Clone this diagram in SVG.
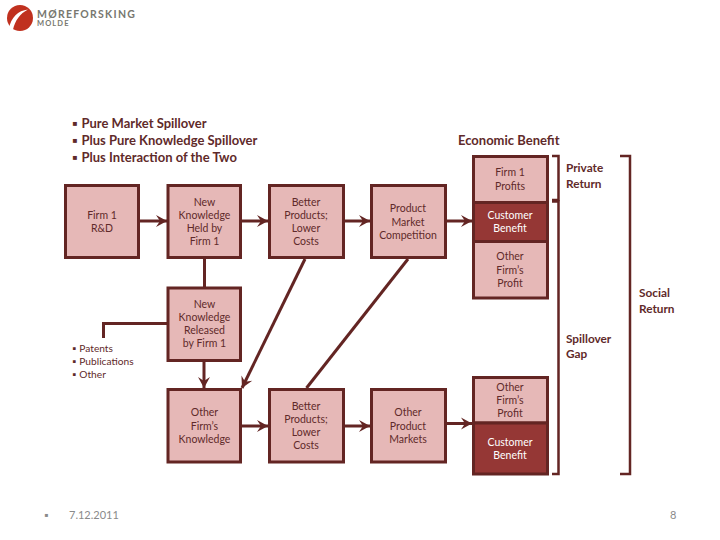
<svg xmlns="http://www.w3.org/2000/svg" width="720" height="540" viewBox="0 0 720 540">
<style>
text{font-family:Lato,"Open Sans",sans-serif;fill:#5f2a2a}
.b{fill:#e6b8b7;stroke:#632523;stroke-width:3}
.d{fill:#953735;stroke:#632523;stroke-width:3}
.l{font-size:10.5px;text-anchor:middle}
.w{fill:#fff}
.h{font-size:13px;font-weight:700}
.r{font-size:11.800px;font-weight:700}
.s{font-size:10.200px}
.c{fill:none;stroke:#632523;stroke-width:3}
.t{fill:none;stroke:#632523;stroke-width:2.500}
.f{fill:#8a8a8a;font-size:11px}
</style>
<defs>
<marker id="a" markerUnits="userSpaceOnUse" markerWidth="14" markerHeight="14" refX="11" refY="6" orient="auto" overflow="visible"><path d="M0 0L11 6L0 12L4 6Z" fill="#632523"/></marker>
</defs>
<g id="logo">
<circle cx="20" cy="18" r="13" fill="#c0311f"/>
<path d="M9 28.500C11 17.500 18 10.500 28 9.500C20 13.500 15 20.500 13 29.500Z" fill="#fff"/>
<text x="37" y="17.500" style="font-size:10.500px;letter-spacing:1.250px;fill:#77776f;font-weight:700">MØREFORSKING</text>
<text x="37" y="25.500" style="font-size:7.500px;letter-spacing:1.100px;fill:#77776f;font-weight:700">MOLDE</text>
</g>
<g id="title-list">
<text x="72" y="128" class="h">▪</text><text x="81.500" y="128" class="h">Pure Market Spillover</text>
<text x="72" y="145" class="h">▪</text><text x="81.500" y="145" class="h">Plus Pure Knowledge Spillover</text>
<text x="72" y="162" class="h">▪</text><text x="81.500" y="162" class="h">Plus Interaction of the Two</text>
</g>
<text id="economic-benefit" x="458" y="145" class="h">Economic Benefit</text>
<g id="connectors">
<path class="c" d="M140 221H167" marker-end="url(#a)"/>
<path class="c" d="M242 221H268" marker-end="url(#a)"/>
<path class="c" d="M345 221H370" marker-end="url(#a)"/>
<path class="c" d="M447 221H472" marker-end="url(#a)"/>
<path class="c" d="M204.500 259V287"/>
<path class="c" d="M204 362V388" marker-end="url(#a)"/>
<path class="c" d="M167 323.500H103.500V338"/>
<path class="c" d="M305 259L242 388" marker-end="url(#a)"/>
<path class="c" d="M408 259L306.500 388"/>
<path class="c" d="M242 426H268" marker-end="url(#a)"/>
<path class="c" d="M345 426H370" marker-end="url(#a)"/>
<path class="c" d="M447 423.500H472" marker-end="url(#a)"/>
</g>
<g id="firm-rd"><rect class="b" x="65.500" y="185.500" width="73" height="72"/><text class="l" x="102" y="219">Firm 1</text><text class="l" x="102" y="232">R&amp;D</text></g>
<g id="new-knowledge-held"><rect class="b" x="168" y="185.500" width="72.500" height="72"/><text class="l" x="204.500" y="206">New</text><text class="l" x="204.500" y="219">Knowledge</text><text class="l" x="204.500" y="232">Held by</text><text class="l" x="204.500" y="245">Firm 1</text></g>
<g id="better-products-1"><rect class="b" x="269.500" y="185.500" width="74" height="72"/><text class="l" x="306" y="206">Better</text><text class="l" x="306" y="219">Products;</text><text class="l" x="306" y="232">Lower</text><text class="l" x="306" y="245">Costs</text></g>
<g id="product-market"><rect class="b" x="371.500" y="185.500" width="74" height="72"/><text class="l" x="408" y="212">Product</text><text class="l" x="408" y="226">Market</text><text class="l" x="408" y="239">Competition</text></g>
<g id="new-knowledge-released"><rect class="b" x="168" y="288" width="72.500" height="72.500"/><text class="l" x="204.500" y="308">New</text><text class="l" x="204.500" y="321">Knowledge</text><text class="l" x="204.500" y="334">Released</text><text class="l" x="204.500" y="347">by Firm 1</text></g>
<g id="patents"><text class="s" x="72" y="352">▪</text><text class="s" x="79.300" y="352">Patents</text><text class="s" x="72" y="365">▪</text><text class="s" x="79.300" y="365">Publications</text><text class="s" x="72" y="378">▪</text><text class="s" x="79.300" y="378">Other</text></g>
<g id="other-knowledge"><rect class="b" x="168" y="389.500" width="72.500" height="72.500"/><text class="l" x="204.500" y="416">Other</text><text class="l" x="204.500" y="430">Firm’s</text><text class="l" x="204.500" y="443">Knowledge</text></g>
<g id="better-products-2"><rect class="b" x="269.500" y="389.500" width="74" height="72.500"/><text class="l" x="306" y="410">Better</text><text class="l" x="306" y="423">Products;</text><text class="l" x="306" y="436">Lower</text><text class="l" x="306" y="449">Costs</text></g>
<g id="other-markets"><rect class="b" x="371.500" y="389.500" width="74" height="72.500"/><text class="l" x="408" y="416">Other</text><text class="l" x="408" y="430">Product</text><text class="l" x="408" y="443">Markets</text></g>
<g id="firm-profits"><rect class="b" x="473.500" y="156.500" width="74" height="46"/><text class="l" x="510" y="176">Firm 1</text><text class="l" x="510" y="190">Profits</text></g>
<g id="customer-benefit-1"><rect class="d" x="473.500" y="202.500" width="74" height="39"/><text class="l w" x="510" y="219">Customer</text><text class="l w" x="510" y="232">Benefit</text></g>
<g id="other-profit-1"><rect class="b" x="473.500" y="241.500" width="74" height="56.500"/><text class="l" x="510" y="260">Other</text><text class="l" x="510" y="274">Firm’s</text><text class="l" x="510" y="287">Profit</text></g>
<g id="other-profit-2"><rect class="b" x="473.500" y="377.500" width="74" height="45.500"/><text class="l" x="510" y="391">Other</text><text class="l" x="510" y="404">Firm’s</text><text class="l" x="510" y="417">Profit</text></g>
<g id="customer-benefit-2"><rect class="d" x="473.500" y="423" width="74" height="51"/><text class="l w" x="510" y="446">Customer</text><text class="l w" x="510" y="459">Benefit</text></g>
<g id="brackets">
<path class="t" d="M552 156H558.500V200H552"/>
<path class="t" d="M552 201.500H558.500V474H552"/>
<path class="t" d="M620 156H630V474H620"/>
</g>
<g id="return-labels">
<text x="566" y="172" class="r">Private</text><text x="566" y="188" class="r">Return</text>
<text x="639" y="297" class="r">Social</text><text x="639" y="313" class="r">Return</text>
<text x="566" y="343" class="r">Spillover</text><text x="566" y="358" class="r">Gap</text>
</g>
<g id="footer">
<text class="f" x="44" y="519">▪</text>
<text class="f" x="69" y="519">7.12.2011</text>
<text class="f" x="670" y="519">8</text>
</g>
</svg>
